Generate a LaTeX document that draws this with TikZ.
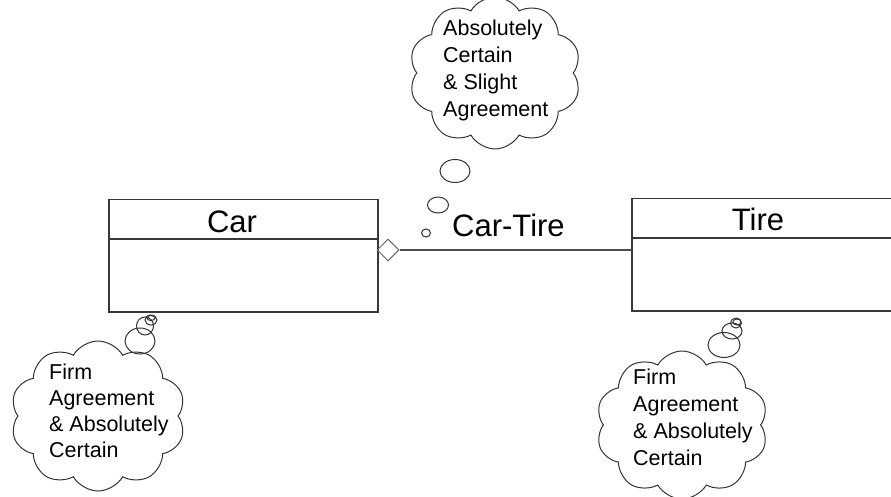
\documentclass[tikz,border=0pt]{standalone}
\usepackage{fontspec}
\setmainfont{Liberation Sans}
\usetikzlibrary{shapes.geometric,shapes.symbols}

\begin{document}
\begin{tikzpicture}[x=1pt,y=-1pt,
  classpart/.style={draw=black!78, line width=1.5pt, inner sep=0pt, anchor=north west, minimum height=#1},
  classname/.style={font=\fontsize{31}{36}\selectfont, anchor=base, inner sep=0pt},
  thought/.style={cloud, draw=black!80, line width=1pt, cloud puffs=10, cloud puff arc=120, cloud ignores aspect, inner sep=0pt},
  thoughttext/.style={font=\fontsize{21.5}{#1}\selectfont, align=left, anchor=base west, inner sep=0pt},
  bubble/.style={ellipse, draw=black!80, line width=1pt, inner sep=0pt},
  link/.style={draw=black!70, line width=1.3pt}
]
\useasboundingbox (0,0) rectangle (891,497);

% class Car
\node[classpart=39pt, minimum width=269pt] (carhead) at (108,199) {};
\node[classpart=73pt, minimum width=269pt] (carbody) at (108,238) {};
\node[classname] (carname) at (232,232) {Car};

% class Tire (runs past the right edge)
\node[classpart=39pt, minimum width=264pt] (tirehead) at (631,198) {};
\node[classpart=73pt, minimum width=264pt] (tirebody) at (631,237) {};
\node[classname] (tirename) at (758,230) {Tire};

% aggregation Car-Tire
\node[diamond, draw=black!60, line width=1pt, inner sep=0pt, minimum width=22pt, minimum height=22pt] (agg) at (388,250) {};
\draw[link] (agg.east) -- (agg.east -| tirebody.west);
\node[font=\fontsize{31}{36}\selectfont, anchor=base west, inner sep=0pt] (assoc) at (452,236) {Car-Tire};

% thought over the association (base anchor = last line)
\node[thought, minimum width=172pt, minimum height=152pt] (topcloud) at (495,73) {};
\node[thoughttext=27.3pt] (toptext) at (443,117) {Absolutely\\Certain\\\& Slight\\Agreement};
\node[bubble, minimum width=30pt, minimum height=23pt] (tb1) at (455,171) {};
\node[bubble, minimum width=21pt, minimum height=16pt] (tb2) at (438,205) {};
\node[bubble, minimum width=9pt, minimum height=8pt] (tb3) at (426,233) {};

% thought under Car
\node[thought, minimum width=175pt, minimum height=150pt] (leftcloud) at (98,416) {};
\node[thoughttext=25.7pt] (lefttext) at (49,457) {Firm\\Agreement\\\& Absolutely\\Certain};
\node[bubble, minimum width=30pt, minimum height=26pt] (lb1) at (140,341) {};
\node[bubble, minimum width=17pt, minimum height=18pt] (lb2) at (145,326) {};
\node[bubble, minimum width=12pt, minimum height=10pt] (lb3) at (151,320) {};
\node[bubble, minimum width=8pt, minimum height=5pt] (lb4) at (151,318) {};

% thought under Tire
\node[thought, minimum width=172pt, minimum height=148pt] (rightcloud) at (682,425) {};
\node[thoughttext=26.7pt] (righttext) at (633,465) {Firm\\Agreement\\\& Absolutely\\Certain};
\node[bubble, minimum width=32pt, minimum height=25pt] (rb1) at (724,345) {};
\node[bubble, minimum width=20pt, minimum height=16pt] (rb2) at (732,331) {};
\node[bubble, minimum width=11pt, minimum height=10pt] (rb3) at (736,323) {};
\node[bubble, minimum width=8pt, minimum height=6pt] (rb4) at (737,322) {};
\end{tikzpicture}
\end{document}
